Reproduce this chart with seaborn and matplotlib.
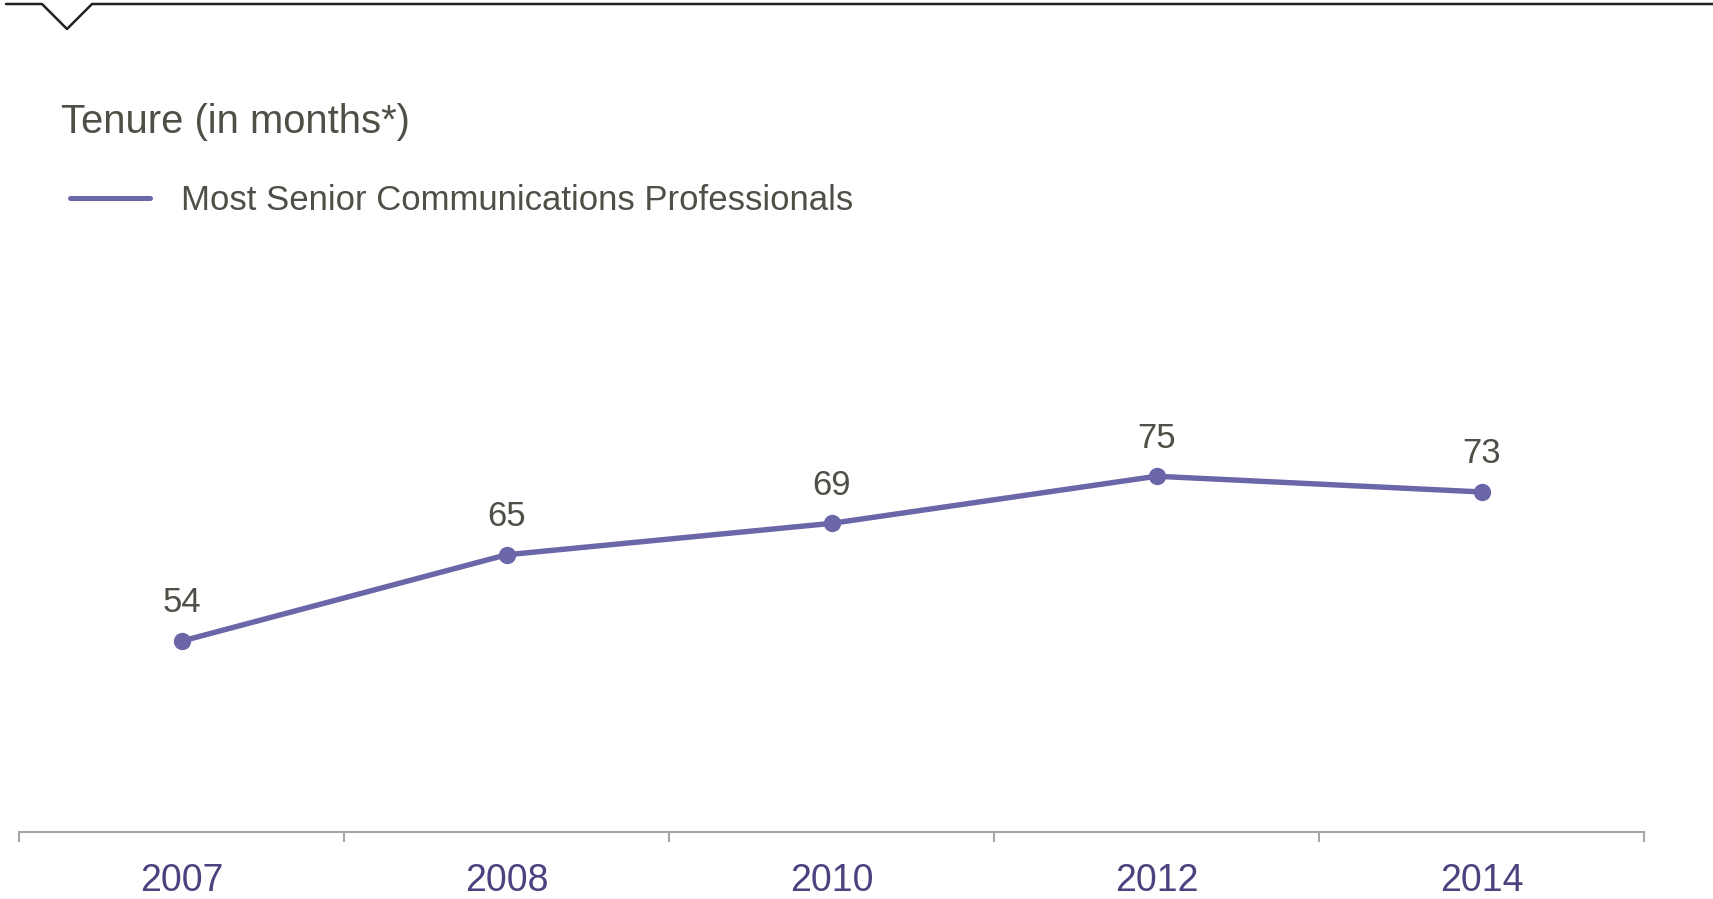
import numpy as np
import pandas as pd
import matplotlib
matplotlib.use("Agg")
import matplotlib.pyplot as plt
from matplotlib.lines import Line2D
import seaborn as sns

years = ["2007", "2008", "2010", "2012", "2014"]
tenure = [54, 65, 69, 75, 73]
series_name = "Most Senior Communications Professionals"
title = "Tenure (in months*)"

W, H = 1713, 899
sns.set_theme(style="white")
plt.rcParams["font.family"] = ["Liberation Sans", "DejaVu Sans"]

LINE = "#6a66a8"
TXT = "#4f4f48"
TICK = "#4a4380"
AX = "#a6a6a6"

fig = plt.figure(figsize=(W / 100, H / 100), dpi=100)
left, right, bottom, top = 19, 1644, 832, 243
ax = fig.add_axes([left / W, 1 - bottom / H, (right - left) / W, (bottom - top) / H])

df = pd.DataFrame({"pos": np.arange(len(years)), "year": years, "tenure": tenure})
sns.lineplot(data=df, x="pos", y="tenure", ax=ax, color=LINE, linewidth=3.9,
             marker="o", markersize=12.5, markeredgewidth=0, label=series_name,
             legend=False)

for x, v in zip(df["pos"], df["tenure"]):
    ax.annotate(str(v), (x, v), xytext=(0, 27.5), textcoords="offset points",
                ha="center", va="center", fontsize=25, color=TXT)

ax.set_xlim(-0.5, len(years) - 0.5)
ax.set_ylim(29.7, 104.7)
ax.set_yticks([])
ax.set_xticks(np.arange(-0.5, len(years), 1.0))
ax.set_xticklabels([])
ax.set_xticks(np.arange(len(years)), minor=True)
ax.set_xticklabels(years, minor=True)
ax.tick_params(axis="x", which="major", length=7.5, width=1.5, color=AX, direction="out", bottom=True)
ax.tick_params(axis="x", which="minor", length=0, pad=22, labelsize=27, labelcolor=TICK)
ax.set_xlabel("")
ax.set_ylabel("")
for s in ["top", "left", "right"]:
    ax.spines[s].set_visible(False)
ax.spines["bottom"].set_color(AX)
ax.spines["bottom"].set_linewidth(1.5)
ax.set_facecolor("white")

fig.text(61 / W, 1 - 122 / H, title, fontsize=28.8, color=TXT, ha="left", va="center")

handle = Line2D([], [], color=LINE, linewidth=3.6)
fig.legend([handle], [series_name], loc="center left",
           bbox_to_anchor=(70 / W, 1 - 201 / H), frameon=False, fontsize=25,
           handlelength=2.3, handletextpad=0.9, borderpad=0, borderaxespad=0,
           labelcolor=TXT)

# decorative top rule with notch
xs = np.array([6, 42, 67, 92, W]) / W
ys = 1 - np.array([4, 4, 29, 4, 4]) / H
fig.add_artist(Line2D(xs, ys, transform=fig.transFigure, color="#222222", linewidth=1.8))

fig.savefig("out.png", dpi=100, facecolor="white")
